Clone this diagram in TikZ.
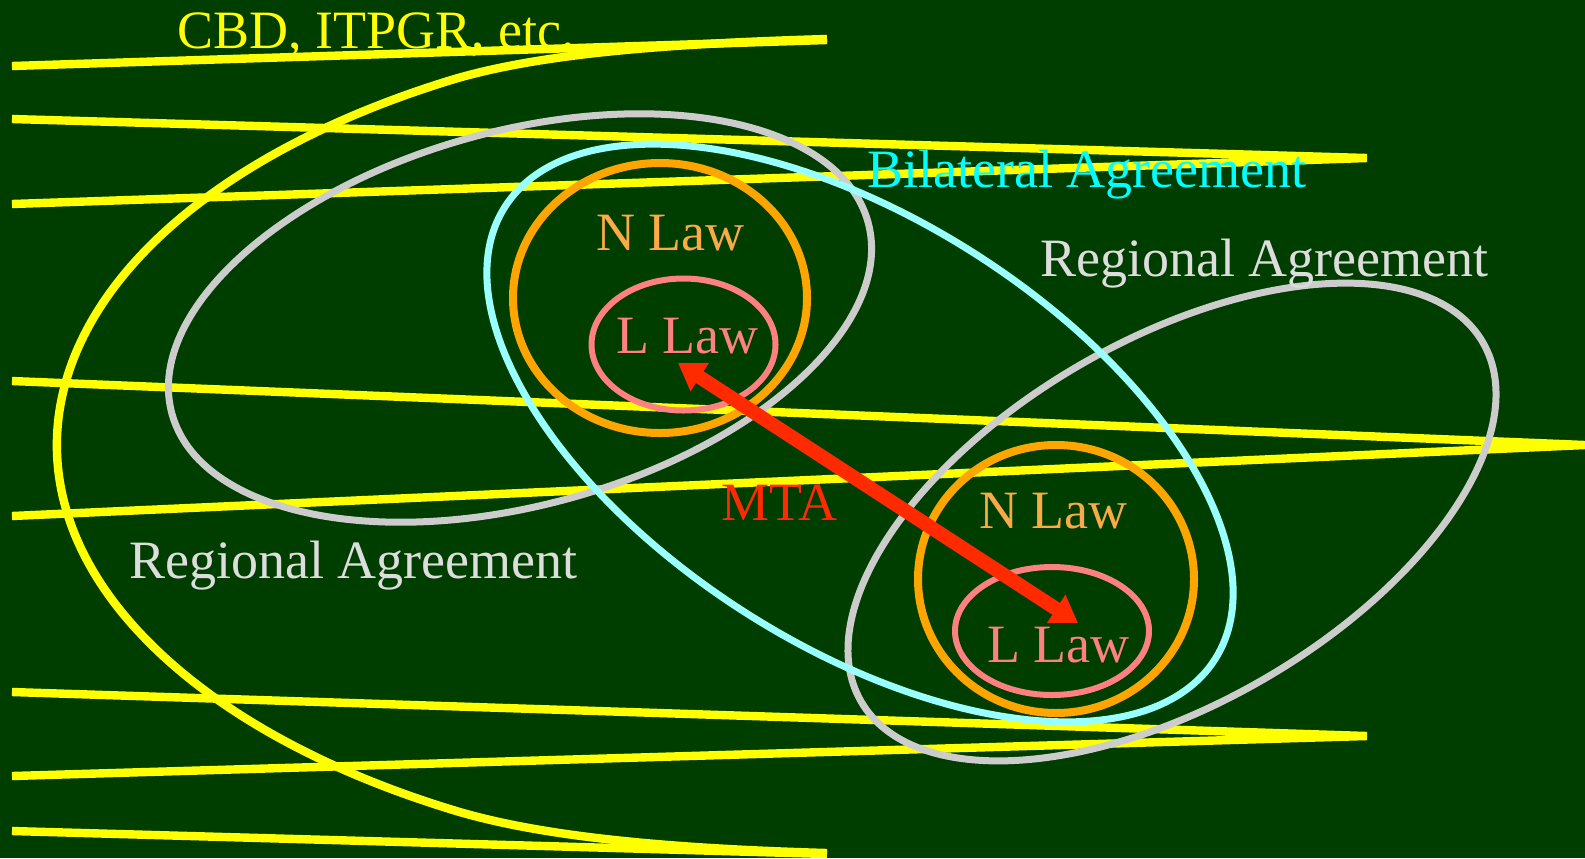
\documentclass[tikz,border=0pt]{standalone}
\usepackage{fontspec}
\setmainfont{Liberation Serif}
\usetikzlibrary{arrows.meta}
\definecolor{bg}{RGB}{0,62,0}
\definecolor{yel}{RGB}{255,255,0}
\definecolor{gry}{RGB}{204,204,204}
\definecolor{gtext}{RGB}{221,221,221}
\definecolor{cyn}{RGB}{153,255,255}
\definecolor{ctext}{RGB}{0,255,255}
\definecolor{orn}{RGB}{255,165,0}
\definecolor{otext}{RGB}{250,170,70}
\definecolor{pnk}{RGB}{255,128,128}
\definecolor{redarrow}{RGB}{255,42,0}
\tikzset{
  yline/.style={draw=yel, line width=4.2pt},
  grayring/.style={draw=gry, line width=3.5pt},
  cyanring/.style={draw=cyn, line width=3.5pt},
  orangering/.style={draw=orn, line width=4pt},
  pinkring/.style={draw=pnk, line width=3pt},
  lbl/.style={anchor=base west, inner sep=0pt, font=\fontsize{27}{30}\selectfont},
  mta/.style={draw=redarrow, line width=7pt, {Triangle[width=16pt,length=13pt]}-{Triangle[width=16pt,length=13pt]}}
}
\begin{document}
\begin{tikzpicture}[x=0.5pt, y=-0.5pt]
\useasboundingbox (0,0) rectangle (1585,858);
\fill[bg] (0,0) rectangle (1585,858);
% yellow lines
\draw[yline] (12,66) -- (827,40);
\draw[yline] (12,119) -- (1367,158) -- (12,204);
\draw[yline] (12,381) -- (1585,445) -- (12,516);
\draw[yline] (12,692) -- (1367,736) -- (12,776);
\draw[yline] (12,831) -- (827,854);
% big yellow curve
\draw[yline] (827,39) .. controls (650,44) and (530,55.6) .. (448,81)
  arc[start angle=240, end angle=120, x radius=782, y radius=420]
  .. controls (530,834.4) and (650,848) .. (827,853);
% regional agreements
\draw[grayring, rotate around={15.4:(520,318)}] (520,318) ellipse [x radius=361, y radius=187];
\draw[grayring, rotate around={30:(1172,522)}] (1172,522) ellipse [x radius=359, y radius=182];
% bilateral
\draw[cyanring, rotate around={-32.5:(860,433)}] (860,433) ellipse [x radius=421, y radius=213];
% national laws
\draw[orangering] (660,298) ellipse [x radius=147, y radius=135];
\draw[orangering] (1056,579) ellipse [x radius=138, y radius=134];
% local laws
\draw[pinkring] (683.5,344.5) ellipse [x radius=92, y radius=66];
\draw[pinkring] (1052,631) ellipse [x radius=97, y radius=64];
% texts
\node[lbl, text=yel] (cbd) at (177,48) {CBD, ITPGR, etc.};
\node[lbl, text=ctext] (bil) at (867,187) {Bilateral Agreement};
\node[lbl, text=gtext] (regR) at (1040,276) {Regional Agreement};
\node[lbl, text=gtext] (regL) at (129,578) {Regional Agreement};
\node[lbl, text=otext] (nlaw1) at (596,250) {N Law};
\node[lbl, text=pnk] (llaw1) at (616,353) {L Law};
\node[lbl, text=otext] (nlaw2) at (979,528) {N Law};
\node[lbl, text=pnk] (llaw2) at (987,662) {L Law};
\node[lbl, text=redarrow] (mtatext) at (721,520) {MTA};
% MTA arrow
\coordinate (tipA) at (678,363);
\coordinate (tipB) at (1078,623);
\draw[mta] (tipA) -- (tipB);
\end{tikzpicture}
\end{document}
